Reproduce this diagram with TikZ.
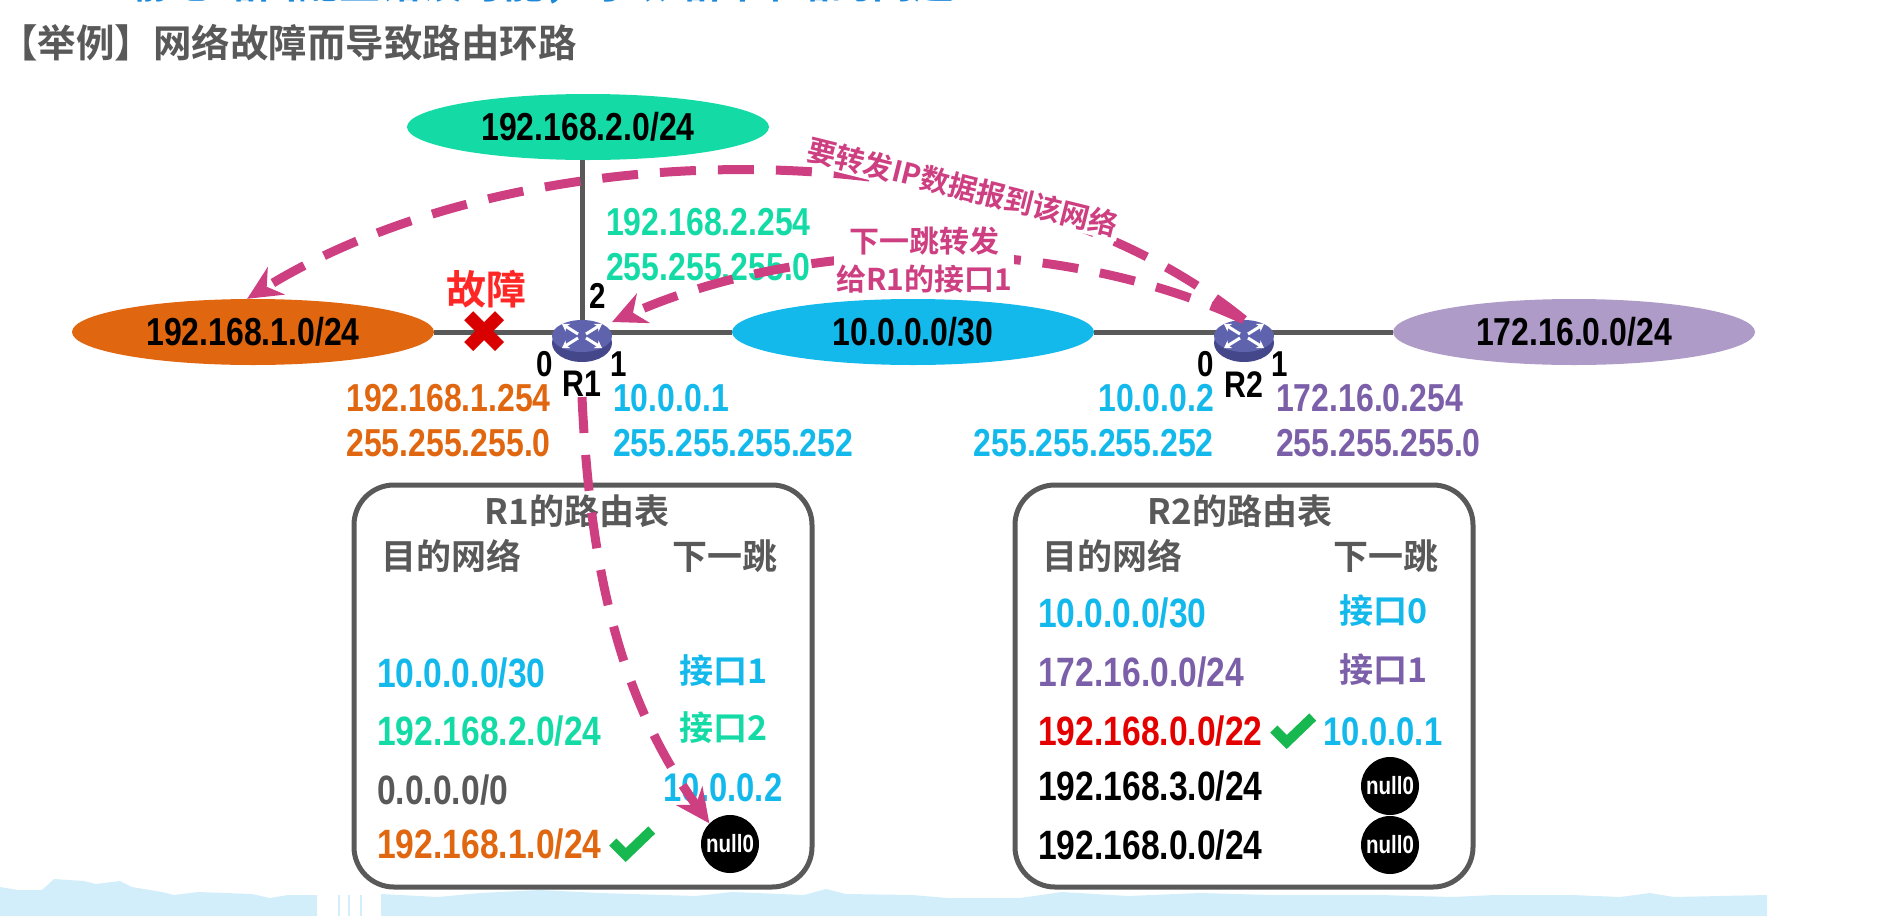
\documentclass[tikz,border=0pt]{standalone}
\usepackage{fontspec}
\setmainfont[UprightFont=* Bold,BoldFont=* Bold,FakeStretch=0.82]{Liberation Sans}
\newfontfamily\cjk[UprightFont={Noto Sans CJK SC Bold},BoldFont={Noto Sans CJK SC Bold}]{Noto Sans CJK SC}
\newfontfamily\symb{DejaVu Sans}
\usetikzlibrary{positioning,shapes.geometric,arrows.meta,backgrounds}
\definecolor{netgreen}{HTML}{14DBA6}
\definecolor{netorange}{HTML}{E0660F}
\definecolor{netblue}{HTML}{14B9EC}
\definecolor{netpurple}{HTML}{AE9BC8}
\definecolor{txtpurple}{HTML}{7B5FA8}
\definecolor{linegray}{HTML}{595959}
\definecolor{pathpink}{HTML}{CE3F82}
\definecolor{titleblue}{HTML}{1E88D8}
\definecolor{wavecolor}{HTML}{D2EEFA}
\definecolor{routerblue}{HTML}{5F63AE}
\definecolor{routerbase}{HTML}{44478A}
\definecolor{okgreen}{HTML}{18B850}
\begin{document}
\begin{tikzpicture}[x=1pt,y=-1pt,
  net/.style={ellipse,minimum width=362pt,minimum height=66pt,inner sep=0pt,font=\fontsize{39}{39}\selectfont},
  ip/.style={inner sep=0pt,font=\fontsize{39}{45}\selectfont},
  port/.style={inner sep=0pt,font=\fontsize{36}{36}\selectfont},
  routername/.style={inner sep=0pt,font=\fontsize{37}{37}\selectfont},
  router/.style={ellipse,fill=routerblue,minimum width=60pt,minimum height=32pt,inner sep=0pt},
  routerfoot/.style={ellipse,fill=routerbase,text=white,minimum width=60pt,minimum height=38pt,inner sep=0pt,font=\fontsize{7}{7}\selectfont},
  routertable/.style={rectangle,draw=linegray,line width=5pt,rounded corners=40pt,minimum width=458pt,minimum height=402pt},
  head/.style={inner sep=0pt,text=linegray,font=\cjk\fontsize{35}{35}\selectfont},
  rowtext/.style={inner sep=0pt,anchor=west,font=\fontsize{41}{41}\selectfont},
  hop/.style={inner sep=0pt,font=\fontsize{40}{40}\selectfont},
  hopcjk/.style={inner sep=0pt,font=\cjk\fontsize{34}{34}\selectfont},
  nullzero/.style={circle,fill=black,text=white,minimum size=58pt,inner sep=0pt,font=\fontsize{25}{25}\selectfont},
  wire/.style={linegray,line width=5pt},
  pathline/.style={draw=pathpink,line width=9pt,dash pattern=on 36pt off 22pt,-{Stealth[length=34pt,width=32pt]}},
  pathnote/.style={fill=white,inner sep=2pt,text=pathpink,align=center,font=\cjk\fontsize{30}{38}\selectfont},
]
\clip (0,0) rectangle (1882,916);

% bottom band
\fill [wavecolor] (0,887) -- (18,890) -- (42,890) -- (54,879) -- (84,881) -- (96,884) -- (120,881) -- (132,887) -- (162,892) -- (174,895) -- (198,892) -- (252,894) -- (270,898) -- (288,895) -- (317,895) -- (317,916) -- (0,916) -- cycle;
\fill [wavecolor] (381,894) -- (438,897) -- (480,893) -- (540,890) -- (600,893) -- (696,896) -- (732,892) -- (804,895) -- (826,889) -- (846,894) -- (912,895) -- (948,898) -- (1020,898) -- (1062,892) -- (1128,896) -- (1200,893) -- (1272,895) -- (1380,895) -- (1452,897) -- (1494,895) -- (1572,895) -- (1620,897) -- (1650,893) -- (1674,897) -- (1767,895) -- (1767,916) -- (381,916) -- cycle;
\fill [wavecolor] (338,895) rectangle (340,916);
\fill [wavecolor] (348,895) rectangle (350,916);
\fill [wavecolor] (360,895) rectangle (362,916);

\node [inner sep=0pt,anchor=west,text=titleblue,font=\cjk\fontsize{41}{41}\selectfont,at={(134,-16)}] (headline) {静态路由配置错误可能，导致路由环路的问题};
\node [inner sep=0pt,anchor=west,text=linegray,font=\cjk\fontsize{38.5}{38.5}\selectfont,at={(-1,43)}] (title) {【举例】网络故障而导致路由环路};

% networks
\node [net,fill=netgreen,at={(588,127)}] (net2) {192.168.2.0/24};
\node [net,fill=netorange,at={(253,332)}] (net1) {192.168.1.0/24};
\node [net,fill=netblue,at={(913,332)}] (net3) {10.0.0.0/30};
\node [net,fill=netpurple,at={(1574,332)}] (net4) {172.16.0.0/24};

% routers
\node [routerfoot,at={(582,343)}] (R1foot) {\raisebox{-12pt}{ROUTER}};
\node [routerfoot,at={(1244,343)}] (R2foot) {\raisebox{-12pt}{ROUTER}};
\node [router,at={(582,336)}] (R1) {};
\node [router,at={(1244,336)}] (R2) {};
\foreach \r in {R1,R2} {
  \foreach \sx/\sy in {1/1,-1/1,1/-1,-1/-1}
    \draw [white,line width=3pt,-{Stealth[length=7pt,width=9pt]}] ([shift={(\sx*4,\sy*2)}]\r.center) -- ([shift={(\sx*20,\sy*12)}]\r.center);
}
\node [routername,below=9pt,at=(R1foot.south)] (R1name) {R1};
\node [routername,below=9pt,at=(R2foot.south)] (R2name) {R2};

\begin{scope}[on background layer]
\draw [wire] (net1) -- (net1 -| R1);
\draw [wire] (net3) -- (net3 -| R1);
\draw [wire] (net3) -- (net3 -| R2);
\draw [wire] (net4) -- (net4 -| R2);
\draw [wire] (net2.south -| R1) -- (R1);
\end{scope}

\node [port,at={(598,296)}] (p2) {2};
\node [port,at={(545,364)}] (p0) {0};
\node [port,at={(619,364)}] (p1) {1};
\node [port,at={(1206,364)}] (q0) {0};
\node [port,at={(1280,364)}] (q1) {1};

\node [inner sep=0pt,text=red!85!black,font=\symb\fontsize{60}{60}\selectfont,at={(485,333)}] (fault) {✖};
\node [inner sep=0pt,text=red!80!pink,font=\cjk\fontsize{40}{40}\selectfont,at={(486,289)}] (faultname) {故障};

% interface addresses
\node [ip,anchor=west,align=left,text=netgreen,at={(606,245)}] (ip2) {192.168.2.254\\255.255.255.0};
\node [ip,anchor=east,align=right,text=netorange,at={(551,421)}] (ip0) {192.168.1.254\\255.255.255.0};
\node [ip,anchor=west,align=left,text=netblue,at={(613,421)}] (ip1) {10.0.0.1\\255.255.255.252};
\node [ip,anchor=east,align=right,text=netblue,at={(1214,421)}] (iq0) {10.0.0.2\\255.255.255.252};
\node [ip,anchor=west,align=left,text=txtpurple,at={(1276,421)}] (iq1) {172.16.0.254\\255.255.255.0};

% table of R1
\node [routertable,at={(583,686)}] (tableA) {};
\node [head,at={(577,511)}] (titleA) {R1的路由表};
\node [head,at={(451,556)}] (destA) {目的网络};
\node [head,at={(725,556)}] (hopA) {下一跳};
\node [rowtext,text=netblue,at={(377,673)}] (a1) {10.0.0.0/30};
\node [rowtext,text=netgreen,at={(377,731)}] (a2) {192.168.2.0/24};
\node [rowtext,text=linegray,at={(377,790)}] (a3) {0.0.0.0/0};
\node [rowtext,text=netorange,at={(377,844)}] (a4) {192.168.1.0/24};
\coordinate [right=30pt,at=(a4.east)] (okA);
\node [hopcjk,text=netblue,at={(724,671)}] (b1) {接口1};
\node [hopcjk,text=netgreen,at={(724,728)}] (b2) {接口2};
\node [hop,text=netblue,at={(723,788)}] (b3) {10.0.0.2};
\node [nullzero,at={(730,844)}] (b4) {null0};

% table of R2
\node [routertable,at={(1244,686)}] (tableB) {};
\node [head,at={(1240,511)}] (titleB) {R2的路由表};
\node [head,at={(1112,556)}] (destB) {目的网络};
\node [head,at={(1386,556)}] (hopB) {下一跳};
\node [rowtext,text=netblue,at={(1038,613)}] (c1) {10.0.0.0/30};
\node [rowtext,text=txtpurple,at={(1038,672)}] (c2) {172.16.0.0/24};
\node [rowtext,text=red!90!black,at={(1038,731)}] (c3) {192.168.0.0/22};
\node [rowtext,at={(1038,786)}] (c4) {192.168.3.0/24};
\node [rowtext,at={(1038,845)}] (c5) {192.168.0.0/24};
\coordinate [right=30pt,at=(c3.east)] (okB);
\node [hopcjk,text=netblue,at={(1384,611)}] (d1) {接口0};
\node [hopcjk,text=txtpurple,at={(1384,670)}] (d2) {接口1};
\node [hop,text=netblue,at={(1383,732)}] (d3) {10.0.0.1};
\node [nullzero,at={(1390,786)}] (d4) {null0};
\node [nullzero,at={(1390,845)}] (d5) {null0};

\foreach \c in {okA,okB}
  \draw [okgreen,line width=10pt] ([shift={(-19,-2)}]\c) -- ([shift={(-6,11)}]\c) -- ([shift={(20,-14)}]\c);

% packet path
\coordinate (R1tip) at (612,322);
\draw [pathline] (R2.north) .. controls (1000,120) and (520,130) .. (net1.100);
\draw [pathline] (R2.north) .. controls (1060,235) and (810,235) .. (R1tip);
\draw [pathline] (R1name.south) .. controls (590,570) and (620,700) .. (b4.north west);

\node [pathnote,font=\cjk\fontsize{29}{38}\selectfont,rotate=-14,at={(963,187)}] (note1) {要转发IP数据报到该网络};
\node [pathnote,at={(924,260)}] (note2) {下一跳转发\\给R1的接口1};
\end{tikzpicture}
\end{document}
